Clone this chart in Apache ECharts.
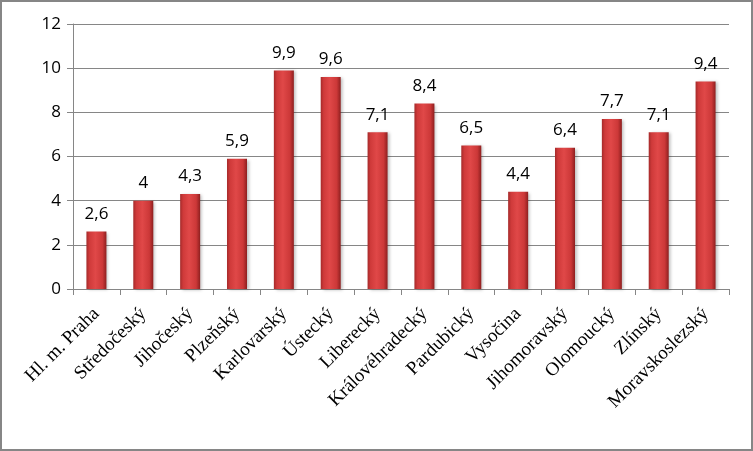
<!DOCTYPE html>
<html>
<head>
<meta charset="utf-8">
<script src="https://cdn.jsdelivr.net/npm/echarts@6/dist/echarts.min.js"></script>
<style>
html,body{margin:0;padding:0;background:#fff;}
#frame{position:absolute;left:0;top:0;width:749px;height:447px;border:2px solid #868686;}
#c{width:753px;height:451px;position:absolute;left:0;top:0;}
</style>
</head>
<body>
<div id="frame"></div>
<div id="c"></div>
<script>
const categories = ["Hl. m. Praha","Středočeský","Jihočeský","Plzeňský","Karlovarský","Ústecký","Liberecký","Královéhradecký","Pardubický","Vysočina","Jihomoravský","Olomoucký","Zlínský","Moravskoslezský"];
const values = [2.6, 4, 4.3, 5.9, 9.9, 9.6, 7.1, 8.4, 6.5, 4.4, 6.4, 7.7, 7.1, 9.4];
const yTicks = [0, 2, 4, 6, 8, 10, 12];

const chart = echarts.init(document.getElementById('c'), null, {renderer:'canvas'});
chart.setOption({
  animation:false,
  backgroundColor:'transparent',
  grid:{left:73, right:24, top:24, bottom:162, containLabel:false},
  xAxis:{
    type:'category',
    data:categories,
    axisLine:{lineStyle:{color:'#868686', width:1}},
    axisTick:{show:true, alignWithLabel:false, length:6, lineStyle:{color:'#868686'}},
    axisLabel:{rotate:45, interval:0, margin:22, color:'#000', fontFamily:'Liberation Serif', fontSize:19}
  },
  yAxis:{
    type:'value',
    min:yTicks[0], max:yTicks[yTicks.length-1], interval:2,
    axisLine:{show:true, lineStyle:{color:'#868686'}},
    axisTick:{show:true, length:6, lineStyle:{color:'#868686'}},
    splitLine:{lineStyle:{color:'#868686', width:1}},
    axisLabel:{color:'#000', fontFamily:'Open Sans', fontSize:17, margin:12}
  },
  series:[{
    type:'bar',
    data:values,
    barWidth:20,
    itemStyle:{
      color:new echarts.graphic.LinearGradient(0,0,1,0,[
        {offset:0, color:'#a52a2a'},
        {offset:0.15, color:'#cf3a3a'},
        {offset:0.45, color:'#e04848'},
        {offset:0.8, color:'#cc3838'},
        {offset:1, color:'#8e1f1f'}
      ]),
      shadowColor:'rgba(0,0,0,0.25)',
      shadowBlur:3,
      shadowOffsetX:2,
      shadowOffsetY:1
    },
    label:{
      show:true, position:'top', distance:9,
      color:'#000', fontFamily:'Open Sans', fontSize:17,
      formatter:p=>String(p.value).replace('.',',')
    }
  }]
});
</script>
</body>
</html>
